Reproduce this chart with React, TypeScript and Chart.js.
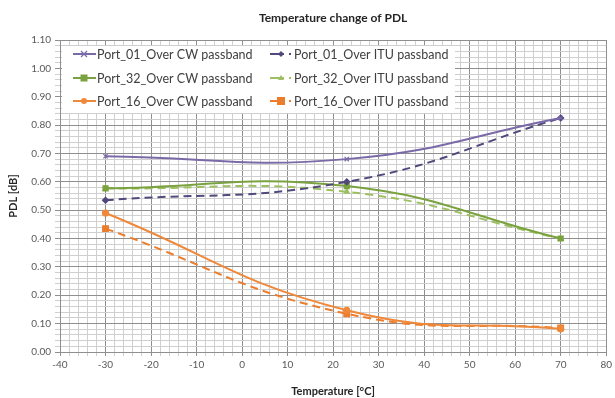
import React, { useEffect, useRef } from "react";
import { Chart, registerables } from "chart.js";

Chart.register(...registerables);

const temperatures = [-30, 23, 70];
const port01CW = [0.69, 0.68, 0.825];
const port01ITU = [0.535, 0.6, 0.825];
const port32CW = [0.577, 0.585, 0.4];
const port32ITU = [0.577, 0.565, 0.4];
const port16CW = [0.49, 0.147, 0.082];
const port16ITU = [0.435, 0.135, 0.085];

const seriesNames = [
  "Port_01_Over CW passband",
  "Port_01_Over ITU passband",
  "Port_32_Over CW passband",
  "Port_32_Over ITU passband",
  "Port_16_Over CW passband",
  "Port_16_Over ITU passband",
];

const titleText = "Temperature change of PDL";
const xTitle = "Temperature [°C]";
const yTitle = "PDL [dB]";
const xMin = -40, xMax = 80, xMajor = 10, xMinor = 2;
const yMin = 0, yMax = 1.1, yMajor = 0.1, yMinor = 0.02;

const PURPLE = "#7a6aa8";
const PURPLE_D = "#50497c";
const GREEN = "#7aa23f";
const GREEN_L = "#9dc062";
const ORANGE = "#f0883a";
const ORANGE_D = "#ec7d2c";

const FONT = "Lato, 'Open Sans', sans-serif";

type S = { name: string; data: number[]; color: string; dash: number[]; style: any; radius: number };

const series: S[] = [
  { name: seriesNames[0], data: port01CW, color: PURPLE, dash: [], style: "crossRot", radius: 3 },
  { name: seriesNames[1], data: port01ITU, color: PURPLE_D, dash: [8, 5], style: "rectRot", radius: 3 },
  { name: seriesNames[2], data: port32CW, color: GREEN, dash: [], style: "rect", radius: 3.5 },
  { name: seriesNames[3], data: port32ITU, color: GREEN_L, dash: [8, 5], style: "triangle", radius: 3 },
  { name: seriesNames[4], data: port16CW, color: ORANGE, dash: [], style: "circle", radius: 3 },
  { name: seriesNames[5], data: port16ITU, color: ORANGE_D, dash: [8, 5], style: "rect", radius: 4 },
];

const isMajor = (v: number, step: number) => {
  const r = v / step;
  return Math.abs(r - Math.round(r)) < 1e-6;
};

const overlayPlugin = {
  id: "overlay",
  afterDraw(chart: any) {
    const ctx = chart.ctx as CanvasRenderingContext2D;
    const area = chart.chartArea;
    ctx.save();
    // title
    ctx.fillStyle = "#262626";
    ctx.font = `bold 12px ${FONT}`;
    ctx.textAlign = "center";
    ctx.textBaseline = "middle";
    ctx.fillText(titleText, (area.left + area.right) / 2, 18);

    // legend box
    const bx = area.left + 2, by = area.top + 6, bw = 393, bh = 67;
    ctx.fillStyle = "#ffffff";
    ctx.fillRect(bx, by, bw, bh);
    const rows = [by + 8, by + 32, by + 55];
    const cols = [bx + 11, bx + 208];
    ctx.font = `12.5px ${FONT}`;
    ctx.textAlign = "left";
    series.forEach((s, i) => {
      const col = cols[i % 2];
      const y = rows[Math.floor(i / 2)];
      ctx.strokeStyle = s.color;
      ctx.lineWidth = 2;
      if (s.dash.length) {
        ctx.setLineDash([]);
        ctx.beginPath();
        ctx.moveTo(col, y);
        ctx.lineTo(col + 14, y);
        ctx.stroke();
        ctx.beginPath();
        ctx.moveTo(col + 19, y);
        ctx.lineTo(col + 21, y);
        ctx.stroke();
      } else {
        ctx.beginPath();
        ctx.moveTo(col, y);
        ctx.lineTo(col + 23, y);
        ctx.stroke();
      }
      ctx.fillStyle = s.color;
      ctx.lineWidth = 1;
      Chart.helpers
        ? (Chart as any).helpers
        : null;
      drawMarker(ctx, s.style, s.radius, col + 11, y, s.color);
      ctx.fillStyle = "#404040";
      ctx.fillText(s.name, col + 24, y + 1);
    });
    ctx.restore();
  },
};

function drawMarker(ctx: CanvasRenderingContext2D, style: string, r: number, x: number, y: number, color: string) {
  ctx.save();
  ctx.fillStyle = color;
  ctx.strokeStyle = color;
  ctx.lineWidth = 1.2;
  ctx.beginPath();
  if (style === "circle") {
    ctx.arc(x, y, r, 0, Math.PI * 2);
    ctx.fill();
  } else if (style === "rect") {
    ctx.fillRect(x - r, y - r, 2 * r, 2 * r);
  } else if (style === "rectRot") {
    ctx.moveTo(x, y - r);
    ctx.lineTo(x + r, y);
    ctx.lineTo(x, y + r);
    ctx.lineTo(x - r, y);
    ctx.closePath();
    ctx.fill();
  } else if (style === "triangle") {
    ctx.moveTo(x, y - r);
    ctx.lineTo(x + r, y + r * 0.7);
    ctx.lineTo(x - r, y + r * 0.7);
    ctx.closePath();
    ctx.fill();
  } else {
    ctx.moveTo(x - r, y - r);
    ctx.lineTo(x + r, y + r);
    ctx.moveTo(x + r, y - r);
    ctx.lineTo(x - r, y + r);
    ctx.stroke();
  }
  ctx.restore();
}

export default function App() {
  const ref = useRef<HTMLCanvasElement | null>(null);
  useEffect(() => {
    document.body.style.margin = "0";
    const canvas = ref.current;
    if (!canvas) return;
    const chart = new Chart(canvas, {
      type: "scatter",
      data: {
        datasets: series.map((s) => ({
          label: s.name,
          data: temperatures.map((t, i) => ({ x: t, y: s.data[i] })),
          showLine: true,
          borderColor: s.color,
          backgroundColor: s.color,
          borderWidth: 2,
          borderDash: s.dash,
          tension: 0.45,
          pointStyle: s.style,
          pointRadius: s.radius,
          pointBorderWidth: 1.2,
          pointBorderColor: s.color,
          pointBackgroundColor: s.color,
        })),
      },
      options: {
        animation: false,
        responsive: false,
        maintainAspectRatio: false,
        layout: { padding: { left: 0, right: 8, top: 40, bottom: 0 } },
        plugins: { legend: { display: false }, tooltip: { enabled: false }, title: { display: false } },
        scales: {
          x: {
            type: "linear",
            min: xMin,
            max: xMax,
            afterFit: (scale: any) => { scale.height = 46; },
            ticks: {
              stepSize: xMinor,
              autoSkip: false,
              maxRotation: 0,
              padding: 3,
              color: "#595959",
              font: { family: FONT, size: 10 },
              callback: (v: any) => (isMajor(Number(v), xMajor) ? String(Math.round(Number(v))) : ""),
            },
            grid: {
              color: (c: any) => (isMajor(c.tick.value, xMajor) ? "#8f8f8f" : "#cfcfcf"),
              lineWidth: 1,
              tickLength: 4,
            },
            border: { color: "#8f8f8f" },
            title: {
              display: true,
              text: xTitle,
              color: "#262626",
              font: { family: FONT, size: 11, weight: "bold" },
              padding: { top: 0, bottom: 0 },
            },
          },
          y: {
            type: "linear",
            min: yMin,
            max: yMax,
            afterFit: (scale: any) => { scale.width = 60; },
            ticks: {
              stepSize: yMinor,
              autoSkip: false,
              padding: 4,
              color: "#595959",
              font: { family: FONT, size: 10 },
              callback: (v: any) => (isMajor(Number(v), yMajor) ? Number(v).toFixed(2) : ""),
            },
            grid: {
              color: (c: any) => (isMajor(c.tick.value, yMajor) ? "#8f8f8f" : "#cfcfcf"),
              lineWidth: 1,
              tickLength: 5,
            },
            border: { color: "#8f8f8f" },
            title: {
              display: true,
              text: yTitle,
              color: "#262626",
              font: { family: FONT, size: 11, weight: "bold" },
              padding: { top: 7, bottom: 0 },
            },
          },
        },
      } as any,
      plugins: [overlayPlugin],
    });
    return () => chart.destroy();
  }, []);
  return <canvas ref={ref} width={615} height={398} style={{ display: "block" }} />;
}
